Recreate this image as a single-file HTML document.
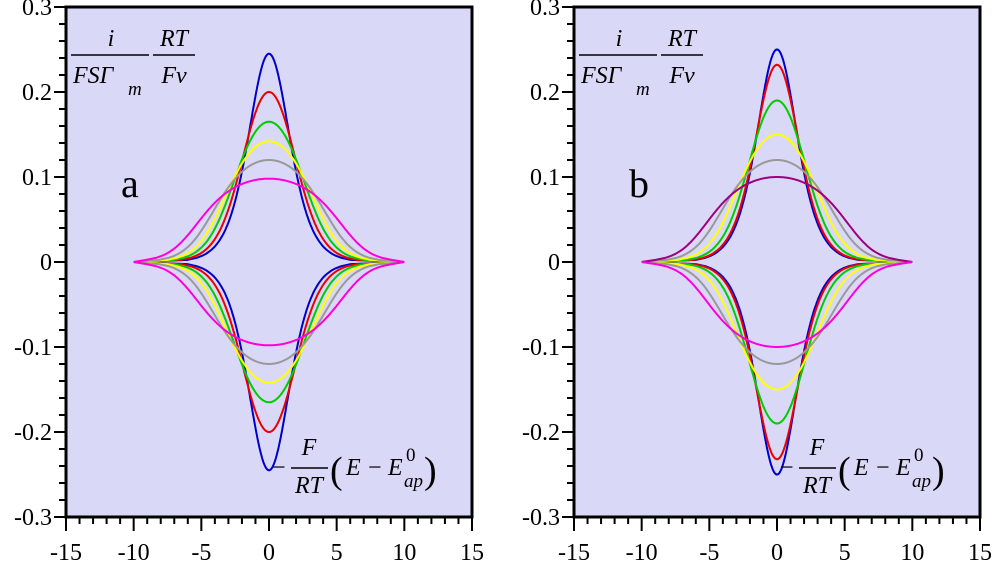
<!DOCTYPE html>
<html><head><meta charset="utf-8"><style>
body{margin:0;background:#fff;width:996px;height:570px;overflow:hidden}
svg, svg text{font-family:"Liberation Serif","DejaVu Serif",serif !important}
</style></head><body>
<svg id="s" width="996" height="570" xmlns="http://www.w3.org/2000/svg"></svg>
<script>
const peaksA=[0.245,0.2,0.165,0.142,0.12,0.098];
const peaksB=[0.25,0.232,0.19,0.15,0.12,0.1];
const colorsA=['#0000cc','#ee0000','#00cc00','#ffff00','#999999','#ff00dd'];
const colorsB=['#0000cc','#ee0000','#00cc00','#ffff00','#999999','#a0007f'];
const xTicks=[-15,-10,-5,0,5,10,15];
const yTicks=[0.3,0.2,0.1,0,-0.1,-0.2,-0.3];
const NS='http://www.w3.org/2000/svg';
const svg=document.getElementById('s');
function mk(t,a,p){const e=document.createElementNS(NS,t);for(const k in a)e.setAttribute(k,a[k]);(p||svg).appendChild(e);return e;}
function panel(x0,x1,peaks,colors,letter,name,lowColorLast){
 const y0=7,y1=517;
 const sx=v=>x0+(v+15)/30*(x1-x0);
 const sy=v=>y0+(0.3-v)/0.6*(y1-y0);
 const g=mk('g',{});
 
 
 const bg=mk('rect',{x:x0,y:y0,width:x1-x0,height:y1-y0,fill:'#d9d9f7'},g);
 
 peaks.forEach((pk,i)=>{
  const gg=4*(0.25/pk-1);
  const pts=[];
  for(let k=1;k<400;k++){const th=k/400;const x=Math.log(th/(1-th))+gg*(th-0.5);
   if(x<-10||x>10)continue;pts.push([x,th*(1-th)/(1+gg*th*(1-th))]);}
  pts.unshift([-10,0]);pts.push([10,0]);
  const up=pts.map(p=>sx(p[0]).toFixed(1)+','+sy(p[1]).toFixed(1)).join(' ');
  const dn=pts.map(p=>sx(p[0]).toFixed(1)+','+sy(-p[1]).toFixed(1)).join(' ');
  const a=mk('polyline',{points:up,fill:'none',stroke:colors[i],'stroke-width':2},g);
  
  const c=mk('polyline',{points:dn,fill:'none',stroke:(i==peaks.length-1&&lowColorLast)?lowColorLast:colors[i],'stroke-width':2},g);
  
 });
 const fr=mk('rect',{x:x0,y:y0,width:x1-x0,height:y1-y0,fill:'none',stroke:'#000','stroke-width':3},g);
 
 for(let k=0;k<=30;k++){const v=0.3-k*0.02;const y=sy(v);const maj=k%5==0;
  mk('line',{x1:x0-(maj?12:7),x2:x0,y1:y,y2:y,stroke:'#000','stroke-width':2},g);}
 yTicks.forEach(v=>{const t=mk('text',{x:x0-14,y:sy(v)+8,'text-anchor':'end','font-size':24},g);
  t.textContent=v==0?'0':v.toFixed(1);});
 for(let v=-15;v<=15;v++){const x=sx(v);const maj=v%5==0;
  mk('line',{x1:x,x2:x,y1:y1,y2:y1+(maj?14:7),stroke:'#000','stroke-width':2},g);}
 xTicks.forEach(v=>{const t=mk('text',{x:sx(v),y:560,'text-anchor':'middle','font-size':24},g);
  t.textContent=String(v);});
 const yt=mk('g',{'font-style':'italic','font-size':24},g);
 
 const tx=(x,y,s,o)=>{const t=mk('text',Object.assign({x:x,y:y},o||{}),yt);t.textContent=s;};
 tx(x0+45,y0+39,'i',{'text-anchor':'middle'});
 mk('line',{x1:x0+5,x2:x0+83,y1:y0+48,y2:y0+48,stroke:'#000','stroke-width':1.5},yt);
 tx(x0+7,y0+76,'FSΓ');tx(x0+62,y0+88,'m',{'font-size':19});
 tx(x0+108,y0+39,'RT',{'text-anchor':'middle'});
 mk('line',{x1:x0+87,x2:x0+129,y1:y0+48,y2:y0+48,stroke:'#000','stroke-width':1.5},yt);
 tx(x0+108,y0+76,'Fv',{'text-anchor':'middle'});
 const L=mk('text',{x:x0+55,y:y0+190,'font-size':40},g);L.textContent=letter;
 
 const xt=mk('g',{'font-size':24},g);
 
 const bx=x0+210;
 const t2=(x,y,s,o)=>{const t=mk('text',Object.assign({x:x,y:y},o||{}),xt);t.textContent=s;};
 t2(bx-4,y0+468,'−');
 t2(bx+33,y0+448,'F',{'font-style':'italic','text-anchor':'middle'});
 mk('line',{x1:bx+15,x2:bx+52,y1:y0+461,y2:y0+461,stroke:'#000','stroke-width':1.5},xt);
 t2(bx+33,y0+486,'RT',{'font-style':'italic','text-anchor':'middle'});
 t2(bx+54,y0+476,'(',{'font-size':38});
 t2(bx+70,y0+468,'E',{'font-style':'italic'});
 t2(bx+92,y0+468,'−');
 t2(bx+112,y0+468,'E',{'font-style':'italic'});
 t2(bx+130,y0+454,'0',{'font-size':19});
 t2(bx+128,y0+480,'ap',{'font-size':19,'font-style':'italic'});
 t2(bx+148,y0+476,')',{'font-size':38});
}
panel(66,472,peaksA,colorsA,'a','panel-a',null);
panel(574,980,peaksB,colorsB,'b','panel-b','#ff00dd');
</script>
</body></html>
